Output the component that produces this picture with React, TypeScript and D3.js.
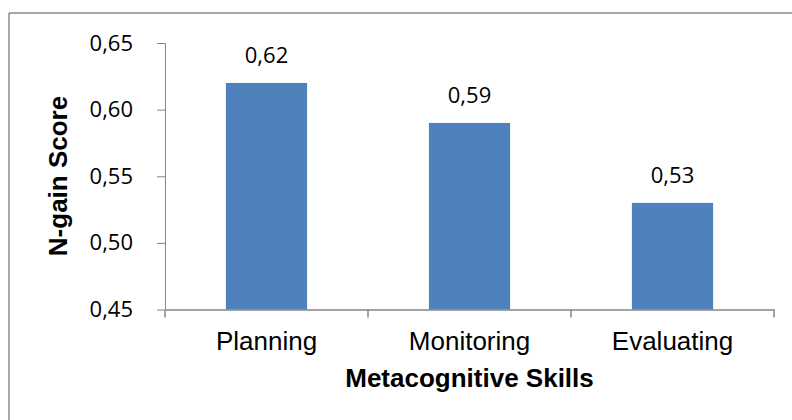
import React, { useEffect, useRef } from 'react';
import { select, scaleBand, scaleLinear, axisLeft, axisBottom } from 'd3';

const categories = ['Planning', 'Monitoring', 'Evaluating'];
const scores = [0.62, 0.59, 0.53];
const yTicks = [0.45, 0.5, 0.55, 0.6, 0.65];

function App() {
  const ref = useRef<SVGSVGElement>(null);

  useEffect(() => {
    const svg = select(ref.current);
    svg.selectAll('*').remove();

    const width = 792, height = 420;
    const margin = { top: 43, right: 18, bottom: 110.5, left: 165 };
    const innerW = 774 - margin.left;
    const innerH = height - margin.top - margin.bottom;
    const axisColor = '#868686';
    const numFont = '"Open Sans", sans-serif';
    const txtFont = '"Liberation Sans", Arial, sans-serif';
    const fmt = (v: number) => v.toFixed(2).replace('.', ',');

    // chart frame (only top and left edges show)
    svg.append('line').attr('x1', 9).attr('x2', width).attr('y1', 13).attr('y2', 13)
      .attr('stroke', '#8a8a8a').attr('stroke-width', 1.5);
    svg.append('line').attr('x1', 9).attr('x2', 9).attr('y1', 13).attr('y2', height)
      .attr('stroke', '#8a8a8a').attr('stroke-width', 1.5);

    const g = svg.append('g').attr('transform', `translate(${margin.left},${margin.top})`);

    const x = scaleBand<string>().domain(categories).range([0, innerW]).padding(0);
    const y = scaleLinear().domain([0.45, 0.65]).range([innerH, 0]);
    const barW = x.bandwidth() * 0.4;

    // y axis
    const yAxis = g.append('g')
      .call(axisLeft(y).tickValues(yTicks).tickFormat(d => fmt(+d)).tickSize(8).tickPadding(24));
    yAxis.select('.domain').attr('stroke', axisColor).attr('d', `M-8,0.5H0.5V${innerH}`);
    yAxis.selectAll('.tick line').attr('stroke', axisColor);
    yAxis.selectAll('text').attr('font-family', numFont).attr('font-size', 22).attr('fill', '#000');

    // bars
    g.selectAll('rect.bar').data(scores).join('rect')
      .attr('class', 'bar')
      .attr('x', (_, i) => (x(categories[i]) as number) + (x.bandwidth() - barW) / 2)
      .attr('y', d => y(d))
      .attr('width', barW)
      .attr('height', d => innerH - y(d))
      .attr('fill', '#4F81BD');

    // data labels
    g.selectAll('text.val').data(scores).join('text')
      .attr('class', 'val')
      .attr('x', (_, i) => (x(categories[i]) as number) + x.bandwidth() / 2)
      .attr('y', d => y(d) - 20)
      .attr('text-anchor', 'middle')
      .attr('font-family', numFont).attr('font-size', 22).attr('fill', '#000')
      .text(d => fmt(d));

    // x axis
    const xAxis = g.append('g').attr('transform', `translate(0,${innerH})`)
      .call(axisBottom(x).tickSize(0).tickPadding(22));
    xAxis.select('.domain').attr('stroke', axisColor).attr('stroke-width', 1.5);
    xAxis.selectAll('text').attr('font-family', txtFont).attr('font-size', 26).attr('fill', '#000');
    // category separator ticks
    xAxis.selectAll('line.sep').data([0, 1, 2, 3]).join('line')
      .attr('class', 'sep')
      .attr('x1', i => i * x.step()).attr('x2', i => i * x.step())
      .attr('y1', 0).attr('y2', 8)
      .attr('stroke', axisColor).attr('stroke-width', 1.5);

    // axis titles
    svg.append('text')
      .attr('x', margin.left + innerW / 2).attr('y', 387)
      .attr('text-anchor', 'middle')
      .attr('font-family', txtFont).attr('font-size', 26).attr('font-weight', 'bold')
      .text('Metacognitive Skills');

    svg.append('text')
      .attr('transform', `translate(67,176) rotate(-90)`)
      .attr('text-anchor', 'middle')
      .attr('font-family', txtFont).attr('font-size', 26).attr('font-weight', 'bold')
      .text('N-gain Score');
  }, []);

  return (
    <div style={{ position: 'fixed', left: 0, top: 0 }}>
      <svg ref={ref} width={792} height={420} style={{ display: 'block', background: '#fff' }} />
    </div>
  );
}

export default App;
